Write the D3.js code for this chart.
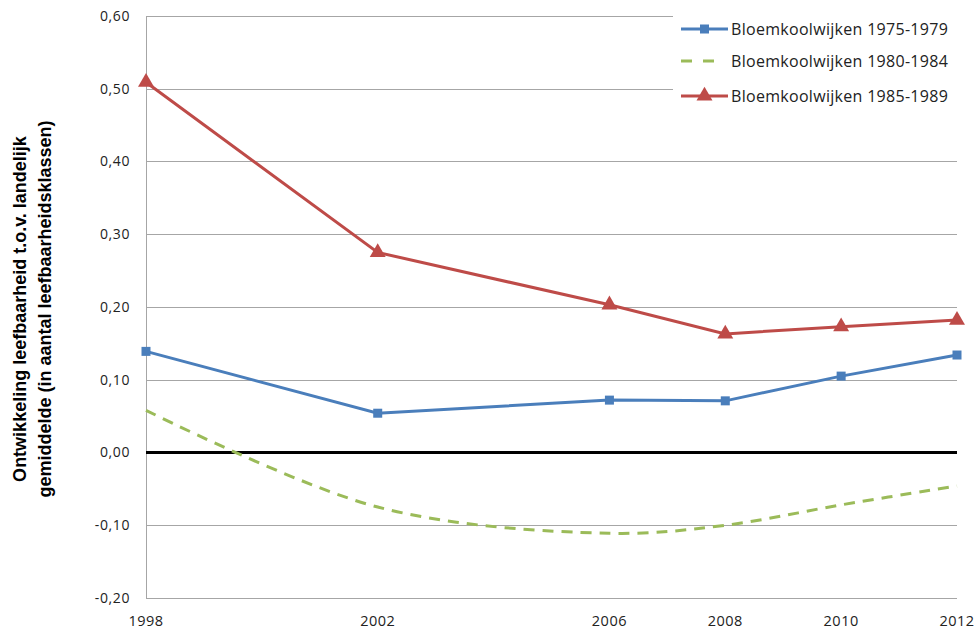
<!DOCTYPE html>
<html><head><meta charset="utf-8">
<script src="https://cdn.jsdelivr.net/npm/d3@7"></script>
<style>body{margin:0;background:#fff}svg{display:block}</style>
</head><body>
<script>
const years = [1998, 2002, 2006, 2008, 2010, 2012];
const s1975 = [0.139, 0.054, 0.072, 0.071, 0.105, 0.134];
const s1980 = [0.058, -0.075, -0.111, -0.100, -0.072, -0.046];
const s1985 = [0.509, 0.275, 0.203, 0.163, 0.173, 0.182];
const seriesNames = ["Bloemkoolwijken 1975-1979", "Bloemkoolwijken 1980-1984", "Bloemkoolwijken 1985-1989"];
const yTicks = [-0.2, -0.1, 0, 0.1, 0.2, 0.3, 0.4, 0.5, 0.6];
const yTitle = ["Ontwikkeling  leefbaarheid t.o.v. landelijk", "gemiddelde (in aantal leefbaarheidsklassen)"];

const W = 976, H = 629;
const svg = d3.select("body").append("svg").attr("width", W).attr("height", H);
const x = d3.scaleLinear().domain([1998, 2012]).range([146, 957]);
const y = d3.scaleLinear().domain([-0.2, 0.6]).range([598, 16]);
const fmt = v => d3.format(".2f")(v).replace(".", ",").replace("−", "-");

// gridlines
svg.append("g").selectAll("line").data(yTicks).join("line")
  .attr("x1", x(1998)).attr("x2", x(2012))
  .attr("y1", d => Math.round(y(d)) + 0.5).attr("y2", d => Math.round(y(d)) + 0.5)
  .attr("stroke", "#a6a6a6").attr("stroke-width", 1);
// left axis line
svg.append("line").attr("x1", x(1998) + 0.5).attr("x2", x(1998) + 0.5)
  .attr("y1", y(0.6)).attr("y2", y(-0.2)).attr("stroke", "#a6a6a6");

// y tick labels
svg.append("g").selectAll("text").data(yTicks).join("text")
  .attr("x", 130).attr("y", d => y(d)).attr("dy", "0.35em")
  .attr("text-anchor", "end").attr("font-family", "Open Sans, sans-serif")
  .attr("font-size", 14).attr("letter-spacing", 0.6).attr("fill", "#222").text(fmt);
// x tick labels
svg.append("g").selectAll("text").data(years).join("text")
  .attr("x", d => x(d)).attr("y", 626)
  .attr("text-anchor", "middle").attr("font-family", "Open Sans, sans-serif")
  .attr("font-size", 14.5).attr("letter-spacing", 0.5).attr("fill", "#222").text(d => d);

// zero line
svg.append("line").attr("x1", x(1998)).attr("x2", x(2012))
  .attr("y1", y(0)).attr("y2", y(0)).attr("stroke", "#000").attr("stroke-width", 3);

// axis title
const tt = svg.append("text").attr("transform", "translate(0,309) rotate(-90)")
  .attr("text-anchor", "middle").attr("font-family", "Liberation Sans, Arial, sans-serif")
  .attr("font-weight", "bold").attr("font-size", 18).attr("fill", "#000");
tt.selectAll("tspan").data(yTitle).join("tspan")
  .attr("x", 0).attr("y", (d, i) => 26 + i * 25).text(d => d);

const line = d3.line().x((d, i) => x(years[i])).y(d => y(d));
const smooth = d3.line().x((d, i) => x(years[i])).y(d => y(d)).curve(d3.curveCatmullRom.alpha(0.5));

const blue = "#4a7ebb", green = "#9bbb59", red = "#be4b48";

// legend background
svg.append("rect").attr("x", 673).attr("y", 8).attr("width", 303).attr("height", 104).attr("fill", "#fff");

// green dashed
svg.append("path").datum(s1980).attr("d", smooth).attr("fill", "none")
  .attr("stroke", green).attr("stroke-width", 3).attr("stroke-dasharray", "11,8");
// blue
svg.append("path").datum(s1975).attr("d", line).attr("fill", "none")
  .attr("stroke", blue).attr("stroke-width", 3);
svg.append("g").selectAll("rect").data(s1975).join("rect")
  .attr("x", (d, i) => x(years[i]) - 4.5).attr("y", d => y(d) - 4.5)
  .attr("width", 9).attr("height", 9).attr("fill", blue);
// red
svg.append("path").datum(s1985).attr("d", line).attr("fill", "none")
  .attr("stroke", red).attr("stroke-width", 3);
const tri = d3.symbol().type(d3.symbolTriangle).size(110);
svg.append("g").selectAll("path").data(s1985).join("path")
  .attr("transform", (d, i) => `translate(${x(years[i])},${y(d)})`)
  .attr("d", tri).attr("fill", red);

// legend
const lg = svg.append("g");
const rows = [29, 61, 96];
const lcol = [blue, green, red];
rows.forEach((ry, i) => {
  const l = lg.append("line").attr("x1", 681).attr("x2", 728).attr("y1", ry).attr("y2", ry)
    .attr("stroke", lcol[i]).attr("stroke-width", 3);
  if (i === 1) l.attr("stroke-dasharray", "11,11").attr("x1", 681).attr("x2", 716);
  if (i === 0) lg.append("rect").attr("x", 700).attr("y", ry - 4.5).attr("width", 9).attr("height", 9).attr("fill", blue);
  if (i === 2) lg.append("path").attr("transform", `translate(704.5,${ry})`).attr("d", tri).attr("fill", red);
  lg.append("text").attr("x", 731).attr("y", ry).attr("dy", "0.35em")
    .attr("font-family", "Open Sans, sans-serif").attr("font-size", 16).attr("letter-spacing", 0.3).attr("fill", "#222")
    .text(seriesNames[i]);
});
</script>
</body></html>
